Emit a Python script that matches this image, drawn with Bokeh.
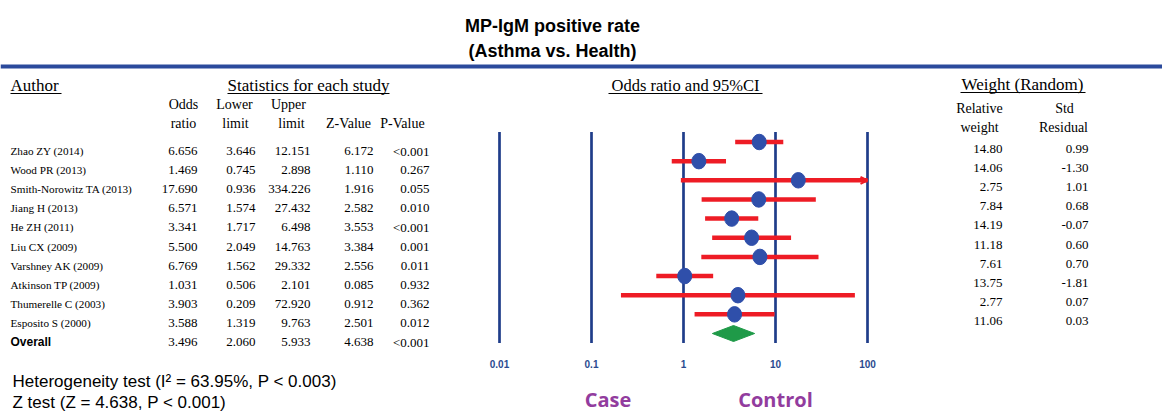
import numpy as np
from bokeh.plotting import figure
from bokeh.models import Range1d, LogScale, Arrow, OpenHead, ColumnDataSource
from bokeh.core.properties import value
from bokeh.embed import file_html
from bokeh.resources import INLINE

# ---------------- data ----------------
authors = ["Zhao ZY (2014)", "Wood PR  (2013)", "Smith-Norowitz TA (2013)", "Jiang H (2013)",
           "He ZH (2011)", "Liu CX (2009)", "Varshney AK (2009)", "Atkinson TP  (2009)",
           "Thumerelle C (2003)", "Esposito S (2000)"]
odds = [6.656, 1.469, 17.690, 6.571, 3.341, 5.500, 6.769, 1.031, 3.903, 3.588]
lower = [3.646, 0.745, 0.936, 1.574, 1.717, 2.049, 1.562, 0.506, 0.209, 1.319]
upper = [12.151, 2.898, 334.226, 27.432, 6.498, 14.763, 29.332, 2.101, 72.920, 9.763]
zval = [6.172, 1.110, 1.916, 2.582, 3.553, 3.384, 2.556, 0.085, 0.912, 2.501]
pval = ["<0.001", "0.267", "0.055", "0.010", "<0.001", "0.001", "0.011", "0.932", "0.362", "0.012"]
rel_weight = [14.80, 14.06, 2.75, 7.84, 14.19, 11.18, 7.61, 13.75, 2.77, 11.06]
std_resid = [0.99, -1.30, 1.01, 0.68, -0.07, 0.60, 0.70, -1.81, 0.07, 0.03]
overall_label = "Overall"
overall_or = 3.496
overall_lower = 2.060
overall_upper = 5.933
overall_z = 4.638
overall_p = "<0.001"
axis_ticks = [0.01, 0.1, 1, 10, 100]
axis_tick_labels = ["0.01", "0.1", "1", "10", "100"]
title_lines = ["MP-IgM positive rate", "(Asthma vs. Health)"]
het_text = "Heterogeneity test (I\u00b2 = 63.95%, P < 0.003)"
z_text = "Z test (Z = 4.638, P < 0.001)"

# ---------------- styling ----------------
SERIF = "Liberation Serif"
SANS = "Liberation Sans"
BLUE_RULE = "#2b4a9c"
BLUE_LINE = "#1f3d8a"
BLUE_DOT = "#2f4faa"
RED = "#ee1c25"
GREEN = "#1f9a48"
PURPLE = "#923c9e"
TICKBLUE = "#2a4a8f"

W, H = 1162, 413
p = figure(width=W, height=H, x_range=Range1d(0, W), y_range=Range1d(H, 0),
           output_backend="svg", toolbar_location=None, min_border=0,
           background_fill_color="white", border_fill_color="white")
p.axis.visible = False
p.grid.visible = False
p.outline_line_color = None

# log-scaled range for the forest plot (0.01 -> px 499, 100 -> px 867)
dec = 92.0
lo = -2 - 499 / dec
hi = 2 + (W - 867) / dec
p.extra_x_ranges = {"or": Range1d(10 ** lo, 10 ** hi)}
p.extra_x_scales = {"or": LogScale()}


def txt(x, y, s, size, font=SERIF, align="left", color="black", style="normal", xr="default"):
    xs = x if isinstance(x, (list, tuple, np.ndarray)) else [x]
    ys = y if isinstance(y, (list, tuple, np.ndarray)) else [y]
    ss = s if isinstance(s, (list, tuple)) else [s]
    p.text(x=list(xs), y=list(ys), text=list(ss), text_font=value(font), text_font_size=size,
           text_align=align, text_baseline="middle", text_color=color, text_font_style=style,
           x_range_name=xr)


# title
txt(552, 25, title_lines[0], "18px", SANS, "center", "black", "bold")
txt(552, 50, title_lines[1], "18px", SANS, "center", "black", "bold")
p.segment(x0=[0], y0=[66], x1=[W], y1=[66], line_color=BLUE_RULE, line_width=4)

# section headers (underlined)
txt(10, 85, "Author", "17px")
p.segment(x0=[10], y0=[93], x1=[61], y1=[93], line_color="black", line_width=1.2)
txt(308, 85, "Statistics for each study", "17px", align="center")
p.segment(x0=[227], y0=[93], x1=[389], y1=[93], line_color="black", line_width=1.2)
txt(685, 85, "Odds ratio and 95%CI", "16.5px", align="center")
p.segment(x0=[608], y0=[93], x1=[762], y1=[93], line_color="black", line_width=1.2)
txt(1022, 84, "Weight (Random)", "17px", align="center")
p.segment(x0=[960], y0=[92], x1=[1085], y1=[92], line_color="black", line_width=1.2)

# column headers
txt([183, 234, 288], [104] * 3, ["Odds", "Lower", "Upper"], "14px", align="center")
txt([183, 235, 291, 348, 402], [123] * 5, ["ratio", "limit", "limit", "Z-Value", "P-Value"],
    "14px", align="center")
txt([979, 1064], [108, 108], ["Relative", "Std"], "14px", align="center")
txt([979, 1063], [127, 127], ["weight", "Residual"], "14px", align="center")

# table rows
n = len(authors)
idx = np.arange(n)
row_y = 150.5 + 19.1 * idx
txt([10] * n, row_y, authors, "11.2px")
txt([197] * n, row_y, [f"{v:.3f}" for v in odds], "13px", align="right")
txt([255] * n, row_y, [f"{v:.3f}" for v in lower], "13px", align="right")
txt([310] * n, row_y, [f"{v:.3f}" for v in upper], "13px", align="right")
txt([373] * n, row_y, [f"{v:.3f}" for v in zval], "13px", align="right")
txt([429] * n, row_y, pval, "13px", align="right")

oy = 150.5 + 19.1 * n
txt(10, oy, overall_label, "12px", SANS, style="bold")
txt([197, 255, 310, 373, 429], [oy] * 5,
    [f"{overall_or:.3f}", f"{overall_lower:.3f}", f"{overall_upper:.3f}", f"{overall_z:.3f}", overall_p],
    "13px", align="right")

wy = 148.5 + 19.1 * idx
txt([1002] * n, wy, [f"{v:.2f}" for v in rel_weight], "13px", align="right")
txt([1088] * n, wy, [f"{v:.2f}" for v in std_resid], "13px", align="right")

# forest plot
axis_max = max(axis_ticks)
fy = 141.5 + 19.15 * idx
p.segment(x0=axis_ticks, y0=[131.5] * len(axis_ticks), x1=axis_ticks, y1=[342.5] * len(axis_ticks),
          line_color=BLUE_LINE, line_width=2.7, x_range_name="or")
clipped_upper = [min(u, axis_max) for u in upper]
p.segment(x0=lower, y0=fy, x1=clipped_upper, y1=fy, line_color=RED, line_width=4.5, x_range_name="or")
for i, u in enumerate(upper):
    if u > axis_max:
        p.add_layout(Arrow(end=OpenHead(size=7, line_color=RED, line_width=2),
                           x_start=axis_max * 0.8, y_start=fy[i], x_end=axis_max, y_end=fy[i],
                           line_alpha=0, x_range_name="or"))
p.ellipse(x=odds, y=fy, width=14, height=15.5, width_units="screen", height_units="screen",
          fill_color=BLUE_DOT, line_color=BLUE_DOT, x_range_name="or")
dy = 141.5 + 19.15 * n
p.patch(x=[overall_lower, overall_or, overall_upper, overall_or], y=[dy, dy - 8, dy, dy + 8],
        fill_color=GREEN, line_color=GREEN, x_range_name="or")
txt(axis_ticks, [363] * len(axis_ticks), axis_tick_labels, "10px", SANS, "center", TICKBLUE, "bold", xr="or")

txt(607.5, 399, "Case", "20px", "Open Sans", "center", PURPLE, "bold")
txt(775, 399, "Control", "20px", "Open Sans", "center", PURPLE, "bold")

# bottom notes
txt(12, 380.5, het_text, "17px", SANS)
txt(12, 401.5, z_text, "17px", SANS)

open("out.html", "w").write(file_html(p, INLINE))
